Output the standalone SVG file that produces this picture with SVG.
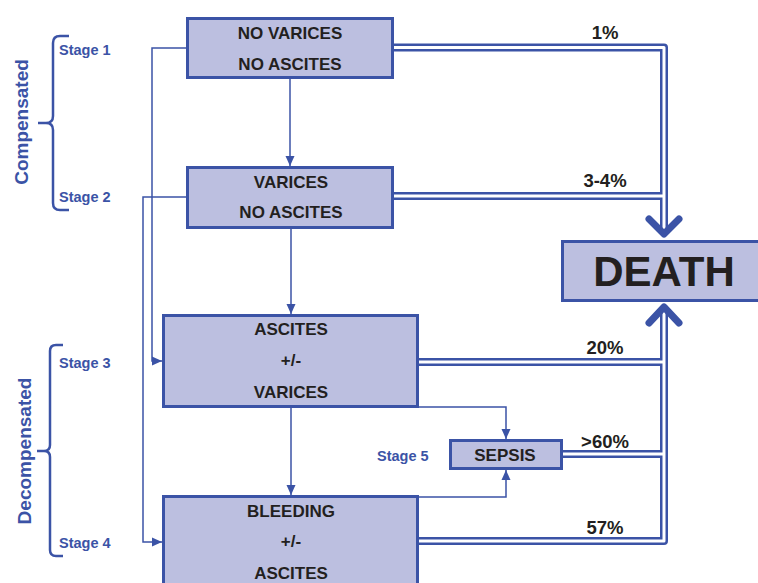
<svg xmlns="http://www.w3.org/2000/svg" width="758" height="583" viewBox="0 0 758 583">
<style>
.box{fill:#bcbfe0;stroke:#3b53a6;stroke-width:3}
.t{font-family:"Liberation Sans",Arial,sans-serif;font-weight:bold;fill:#231f20;text-anchor:middle}
.n{font-size:17px}
.p{font-size:18.5px}
.s{font-family:"Liberation Sans",Arial,sans-serif;font-weight:bold;fill:#3b53a6;font-size:14.5px}
.g{font-family:"Liberation Sans",Arial,sans-serif;font-weight:bold;fill:#3b53a6;font-size:19px;text-anchor:middle}
.thin{fill:none;stroke:#3b53a6;stroke-width:1.5}
.dbl{fill:none;stroke:#3b53a6;stroke-width:8;stroke-linejoin:round}
.dblw{fill:none;stroke:#ffffff;stroke-width:3;stroke-linejoin:round}
.chev{fill:none;stroke:#3b53a6;stroke-width:7;stroke-linecap:round;stroke-linejoin:round}
.br{fill:none;stroke:#3b53a6;stroke-width:2.5}
</style>
<defs>
<marker id="ah" markerUnits="userSpaceOnUse" markerWidth="10" markerHeight="10" viewBox="0 0 10 10" refX="10" refY="5" orient="auto">
<path d="M0,0.5 L10,5 L0,9.5 Z" fill="#3b53a6"/>
</marker>
</defs>

<g id="connectors">
<path class="thin" d="M290 79 V166" marker-end="url(#ah)"/>
<path class="thin" d="M291 229 V314" marker-end="url(#ah)"/>
<path class="thin" d="M291 408 V495" marker-end="url(#ah)"/>
<path class="thin" d="M186 48 H152 V361 H162" marker-end="url(#ah)"/>
<path class="thin" d="M186 197 H143 V542 H162" marker-end="url(#ah)"/>
<path class="thin" d="M419 407 H506 V439" marker-end="url(#ah)"/>
<path class="thin" d="M419 497 H506 V470" marker-end="url(#ah)"/>

<path class="dbl" d="M394 47.5 H664 V232"/>
<path class="dbl" d="M394 196 H664"/>
<path class="dbl" d="M419 541 H664 V310"/>
<path class="dbl" d="M419 362 H664"/>
<path class="dbl" d="M563 454 H664"/>
<path class="dblw" d="M394 47.5 H664 V232"/>
<path class="dblw" d="M394 196 H664"/>
<path class="dblw" d="M419 541 H664 V310"/>
<path class="dblw" d="M419 362 H664"/>
<path class="dblw" d="M563 454 H664"/>
<polyline class="chev" points="649,219 664,234 679,219"/>
<polyline class="chev" points="649,323 664,307 679,323"/>

<text class="t p" x="605" y="39">1%</text>
<text class="t p" x="605" y="187">3-4%</text>
<text class="t p" x="605" y="354">20%</text>
<text class="t p" x="605" y="448">&gt;60%</text>
<text class="t p" x="605" y="534">57%</text>
</g>

<g id="brackets">
<path class="br" d="M69 36 H60 Q53 36 53 43 V116 Q53 123 46 123 H38 M46 123 Q53 123 53 130 V203 Q53 210 60 210 H69"/>
<text class="g" transform="translate(28,122) rotate(-90)">Compensated</text>
<path class="br" d="M63 345 H56 Q50 345 50 351 V445 Q50 451 44 451 H37 M44 451 Q50 451 50 457 V550 Q50 556 56 556 H63"/>
<text class="g" transform="translate(31,451) rotate(-90)">Decompensated</text>
<text class="s" x="59" y="55">Stage 1</text>
<text class="s" x="59" y="202">Stage 2</text>
<text class="s" x="59" y="368">Stage 3</text>
<text class="s" x="59" y="548">Stage 4</text>
<text class="s" x="377" y="461">Stage 5</text>
</g>

<g id="n1">
<rect class="box" x="187.5" y="18.5" width="205" height="59"/>
<text class="t n" x="290" y="39">NO VARICES</text>
<text class="t n" x="290" y="70">NO ASCITES</text>
</g>
<g id="n2">
<rect class="box" x="187.5" y="167.5" width="205" height="60"/>
<text class="t n" x="291" y="188">VARICES</text>
<text class="t n" x="291" y="218">NO ASCITES</text>
</g>
<g id="n3">
<rect class="box" x="163.5" y="315.5" width="254" height="91"/>
<text class="t n" x="291" y="335">ASCITES</text>
<text class="t n" x="291" y="366">+/-</text>
<text class="t n" x="291" y="398">VARICES</text>
</g>
<g id="n4">
<rect class="box" x="163.5" y="496.5" width="254" height="100"/>
<text class="t n" x="291" y="517">BLEEDING</text>
<text class="t n" x="291" y="547">+/-</text>
<text class="t n" x="291" y="579">ASCITES</text>
</g>
<g id="n5">
<rect class="box" x="450.5" y="440.5" width="111" height="28"/>
<text class="t n" x="505" y="461">SEPSIS</text>
</g>
<g id="death">
<rect class="box" x="562.5" y="241.5" width="200" height="59"/>
<text class="t" x="664" y="286" font-size="42">DEATH</text>
</g>
</svg>
